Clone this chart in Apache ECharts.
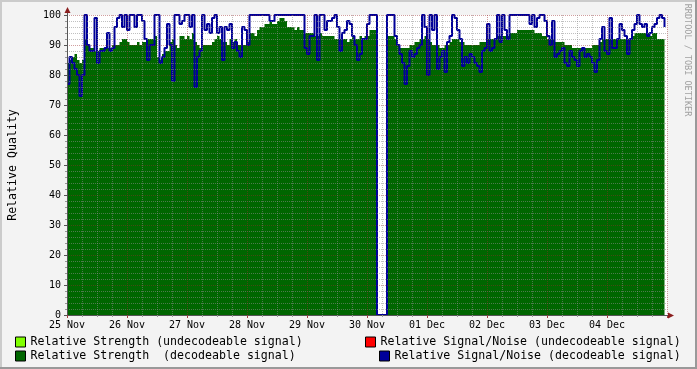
<!DOCTYPE html>
<html><head><meta charset="utf-8">
<script src="https://cdn.jsdelivr.net/npm/echarts@6/dist/echarts.min.js"></script>
<style>html,body{margin:0;padding:0;background:#f3f3f3}#c{width:697px;height:369px}</style>
</head><body><div id="c"></div>
<script>
// Day tick labels (one per 24 h)
const xLabels = ['25 Nov','26 Nov','27 Nov','28 Nov','29 Nov','30 Nov','01 Dec','02 Dec','03 Dec','04 Dec'];
// Hourly values starting 25 Nov 00:00 (0 = no signal / gap)
const strength = [
84,85,86,87,85,84,85,92,90,89,
89,88,88,89,89,89,89,89,90,90,
90,91,92,92,91,90,90,90,91,90,
91,91,92,92,92,93,86,85,87,88,
88,91,92,90,89,93,93,92,93,92,
94,91,90,89,90,90,90,90,91,92,
93,92,91,91,90,92,91,92,90,90,
90,90,91,94,94,93,95,96,96,97,
97,98,97,97,98,99,99,98,96,96,
96,95,96,95,95,94,94,94,94,93,
93,94,93,93,93,93,93,92,92,92,
92,92,91,92,93,92,92,93,92,93,
93,95,95,95,0,0,0,0,93,93,
93,92,90,89,89,89,89,90,90,91,
91,92,92,93,92,91,90,90,90,89,
89,90,90,91,92,92,92,91,91,90,
90,90,90,90,90,91,91,91,92,92,
92,92,93,93,93,93,93,94,94,94,
95,95,95,95,95,95,95,94,94,94,
93,93,92,92,92,91,91,91,91,90,
90,90,89,89,89,89,89,89,89,89,
90,90,90,91,92,92,92,92,92,92,
92,92,92,92,92,92,93,94,94,94,
94,94,94,93,94,94,92,92,92,91];
const snr = [
77,86,84,82,80,73,80,100,90,88,
88,99,84,88,88,89,94,88,89,96,
99,100,96,100,95,100,100,96,100,100,
98,92,85,90,90,100,100,84,86,89,
97,90,78,100,100,97,98,100,100,96,
100,76,86,88,100,95,97,94,99,100,
94,96,85,96,95,97,89,91,88,86,
96,95,90,100,100,100,100,100,100,100,
100,98,98,100,100,100,100,100,100,100,
100,100,100,100,100,89,87,93,93,100,
85,100,100,95,98,98,99,100,96,88,
94,95,98,97,93,90,85,87,92,92,
97,100,100,100,0,0,0,0,100,100,
100,93,90,87,84,77,83,88,86,87,
89,90,100,96,80,100,95,100,82,86,
88,81,91,93,100,99,95,92,83,86,
84,87,86,84,83,81,88,89,97,88,
89,92,100,91,100,95,92,100,100,100,
100,100,100,100,100,97,100,96,99,100,
100,98,93,90,98,86,87,88,89,84,
83,88,86,85,83,88,89,86,87,86,
84,81,85,92,96,88,87,99,89,89,
92,97,95,93,87,92,95,97,100,97,
96,97,93,94,96,97,99,100,99,96];
const names = ['Relative Strength (undecodeable signal)','Relative Signal/Noise (undecodeable signal)','Relative Strength  (decodeable signal)','Relative Signal/Noise (decodeable signal)'];

const mono = 'DejaVu Sans Mono';
const strengthData = strength.map((v, i) => [i, v]);
const snrData = snr.map((v, i) => [i, v]);

const chart = echarts.init(document.getElementById('c'));
const gridLine = { color: 'rgba(140,140,140,0.55)', type: [1, 1], width: 1 };
const majorLine = { color: 'rgba(150,40,40,0.45)', type: [1, 1], width: 1 };
const legendBase = { icon: 'rect', itemWidth: 10, itemHeight: 10, orient: 'horizontal',
  itemStyle: { borderColor: '#000', borderWidth: 1 }, padding: 0,
  textStyle: { fontFamily: mono, fontSize: 11.6, color: '#000' }, selectedMode: false };

chart.setOption({
  backgroundColor: '#f3f3f3',
  animation: false,
  grid: { left: 67, right: 30, top: 15, bottom: 54, containLabel: false, outerBoundsMode: 'none',
    show: true, backgroundColor: '#ffffff', borderWidth: 0 },
  xAxis: {
    type: 'value', min: 0, max: 240, interval: 24, z: 5,
    axisLine: { show: true, onZero: false, lineStyle: { color: '#555', width: 1 } },
    axisTick: { show: true, length: 3, lineStyle: { color: '#a04040' } },
    minorTick: { show: true, splitNumber: 4, length: 2, lineStyle: { color: '#999' } },
    axisLabel: { formatter: v => xLabels[v / 24] || '', fontFamily: mono, fontSize: 10, color: '#000', margin: 5 },
    splitLine: { show: true, lineStyle: majorLine },
    minorSplitLine: { show: true, lineStyle: gridLine }
  },
  yAxis: {
    type: 'value', min: 0, max: 100, interval: 10, z: 5,
    name: 'Relative Quality', nameLocation: 'middle', nameRotate: 90, nameGap: 48,
    nameTextStyle: { fontFamily: mono, fontSize: 11.6, color: '#000' },
    axisLine: { show: true, lineStyle: { color: '#555', width: 1 } },
    axisTick: { show: true, length: 3, lineStyle: { color: '#555' } },
    minorTick: { show: true, splitNumber: 5, length: 2, lineStyle: { color: '#999' } },
    axisLabel: { fontFamily: mono, fontSize: 10, color: '#000', margin: 6 },
    splitLine: { show: true, lineStyle: majorLine },
    minorSplitLine: { show: true, lineStyle: gridLine }
  },
  legend: [
    Object.assign({}, legendBase, { data: [names[0]], left: 15, top: 336 }),
    Object.assign({}, legendBase, { data: [names[1]], left: 365, top: 336 }),
    Object.assign({}, legendBase, { data: [names[2]], left: 15, top: 350 }),
    Object.assign({}, legendBase, { data: [names[3]], left: 379, top: 350 })
  ],
  series: [
    { name: names[0], type: 'line', data: [], itemStyle: { color: '#80ff00' } },
    { name: names[1], type: 'line', data: [], itemStyle: { color: '#ff0000' } },
    { name: names[2], type: 'line', step: 'end', data: strengthData, showSymbol: false, z: 2,
      itemStyle: { color: '#006600' }, lineStyle: { width: 0, color: '#006600' },
      areaStyle: { color: '#006600', opacity: 1 } },
    { name: names[3], type: 'line', step: 'end', data: snrData, showSymbol: false, z: 3,
      itemStyle: { color: '#000099' }, lineStyle: { width: 2, color: '#000099' } }
  ]
});

const o = chart.convertToPixel({ gridIndex: 0 }, [0, 100]);
const e = chart.convertToPixel({ gridIndex: 0 }, [240, 0]);
chart.setOption({
  graphic: [
    { type: 'rect', shape: { x: 0, y: 0, width: 697, height: 2 }, style: { fill: '#cbcbcb' }, silent: true },
    { type: 'rect', shape: { x: 0, y: 0, width: 2, height: 369 }, style: { fill: '#cbcbcb' }, silent: true },
    { type: 'rect', shape: { x: 0, y: 367, width: 697, height: 2 }, style: { fill: '#999999' }, silent: true },
    { type: 'rect', shape: { x: 695, y: 0, width: 2, height: 369 }, style: { fill: '#999999' }, silent: true },
    { type: 'line', shape: { x1: o[0] + 0.5, y1: o[1], x2: o[0] + 0.5, y2: o[1] - 3 }, style: { stroke: '#555', lineWidth: 1 }, z: 10 },
    { type: 'polygon', shape: { points: [[o[0] - 2.5, o[1] - 2], [o[0] + 3.5, o[1] - 2], [o[0] + 0.5, o[1] - 8]] }, style: { fill: '#8b1f1f' }, z: 10 },
    { type: 'line', shape: { x1: e[0], y1: e[1] + 0.5, x2: e[0] + 2, y2: e[1] + 0.5 }, style: { stroke: '#555', lineWidth: 1 }, z: 10 },
    { type: 'polygon', shape: { points: [[e[0] + 1, e[1] - 2.5], [e[0] + 1, e[1] + 3.5], [e[0] + 7, e[1] + 0.5]] }, style: { fill: '#8b1f1f' }, z: 10 },
    { type: 'text', x: 687, y: 60, rotation: -Math.PI / 2,
      style: { text: 'RRDTOOL / TOBI OETIKER', font: '8.5px DejaVu Sans Mono', fill: '#a0a0a0', align: 'center', verticalAlign: 'middle' } }
  ]
});
</script></body></html>
